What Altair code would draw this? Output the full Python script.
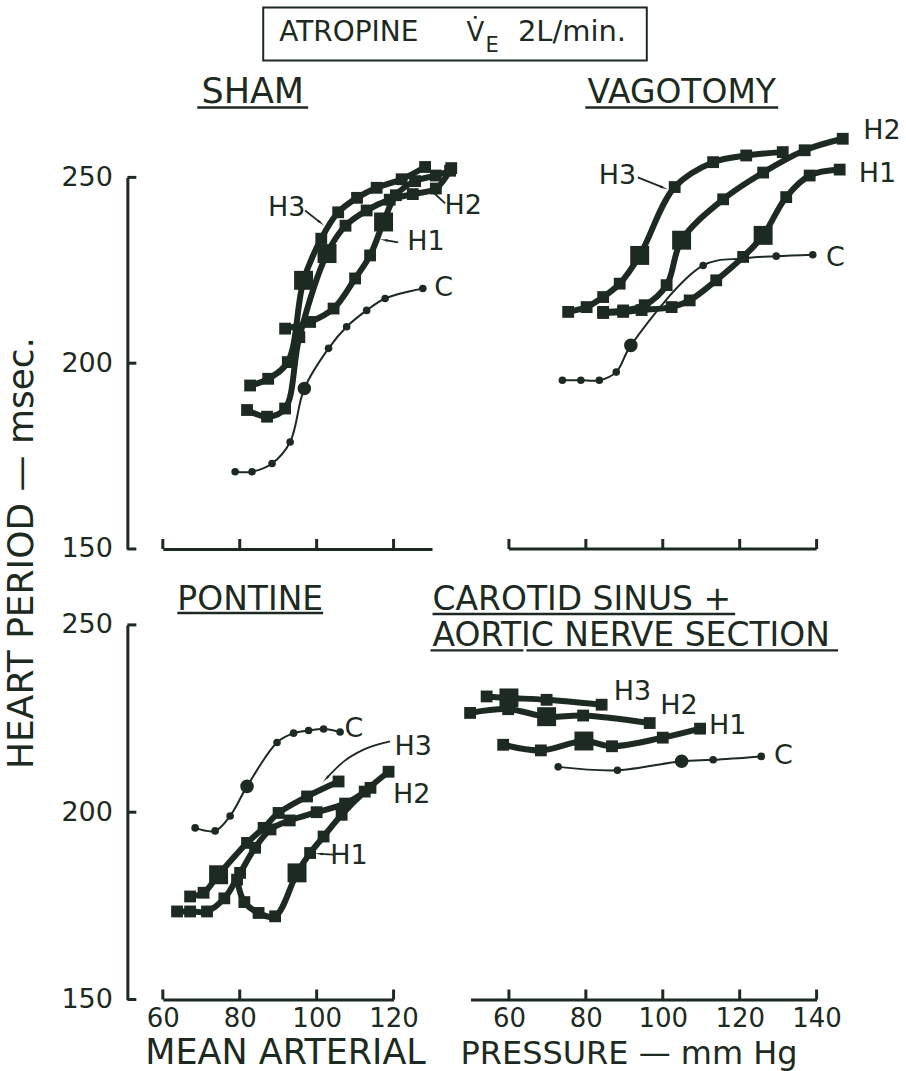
import altair as alt
import pandas as pd

INK = "#1d2a21"
FONT = "DejaVu Sans"

# ---------------- data: mean arterial pressure (mm Hg) vs heart period (msec) ----------------
# SHAM
SHAM_C_MAP = [78.8, 83.2, 88.4, 93.1, 96.8, 103.1, 107.8, 113.0, 117.8, 127.6]
SHAM_C_HP = [170.8, 170.8, 173.0, 178.8, 193.2, 204.0, 209.8, 214.2, 217.4, 220.1]
SHAM_C_BIG = 4
SHAM_H3_MAP = [82.7, 87.4, 92.5, 96.6, 101.2, 105.6, 110.5, 115.6, 122.1, 128.2]
SHAM_H3_HP = [194.0, 195.8, 200.3, 222.3, 233.5, 240.6, 244.5, 247.2, 249.5, 252.8]
SHAM_H3_BIG = 3
SHAM_H2_MAP = [81.9, 87.1, 91.8, 95.5, 102.7, 107.5, 113.0, 119.0, 125.0, 131.0, 135.0]
SHAM_H2_HP = [187.4, 185.6, 187.8, 207.0, 229.5, 237.0, 241.1, 244.0, 245.5, 247.0, 252.5]
SHAM_H2_BIG = 4
SHAM_H1_MAP = [91.8, 98.3, 104.4, 110.0, 113.9, 117.4, 120.6, 125.6, 131.0, 134.7]
SHAM_H1_HP = [209.3, 211.1, 214.7, 222.8, 229.0, 238.0, 245.2, 249.0, 250.5, 251.8]
SHAM_H1_BIG = 5

# VAGOTOMY
VAGO_C_MAP = [73.9, 78.7, 83.5, 87.9, 91.7, 110.5, 120.8, 129.5, 139.0]
VAGO_C_HP = [195.4, 195.4, 195.4, 197.6, 204.8, 226.3, 228.2, 228.8, 229.2]
VAGO_C_BIG = 4
VAGO_H3_MAP = [75.4, 80.2, 84.5, 88.8, 94.0, 103.1, 113.1, 121.7, 131.2]
VAGO_H3_HP = [213.8, 215.1, 217.8, 221.4, 229.0, 247.4, 254.1, 255.9, 256.8]
VAGO_H3_BIG = 4
VAGO_H2_MAP = [84.5, 89.7, 95.3, 101.0, 104.9, 115.7, 126.1, 136.9, 146.8]
VAGO_H2_HP = [213.8, 214.2, 215.6, 221.0, 233.1, 244.1, 251.3, 257.3, 260.4]
VAGO_H2_BIG = 4
VAGO_H1_MAP = [84.5, 89.7, 94.5, 102.3, 107.0, 113.9, 120.9, 126.1, 132.1, 138.2, 146.0]
VAGO_H1_HP = [213.5, 213.8, 214.3, 215.1, 216.9, 222.3, 228.6, 234.4, 244.7, 250.5, 252.1]
VAGO_H1_BIG = 7

# PONTINE
PONT_C_MAP = [68.4, 73.6, 77.5, 81.9, 89.7, 94.0, 97.9, 101.8, 106.1]
PONT_C_HP = [195.8, 195.0, 199.0, 206.9, 218.6, 221.1, 221.8, 222.2, 221.4]
PONT_C_BIG = 3
PONT_H3_MAP = [67.1, 70.6, 74.5, 81.9, 86.2, 90.1, 97.5, 105.7]
PONT_H3_HP = [177.5, 178.5, 183.3, 191.8, 195.8, 199.8, 204.2, 208.2]
PONT_H3_BIG = 2
PONT_H2_MAP = [63.7, 67.1, 71.5, 76.0, 80.1, 84.0, 88.0, 93.0, 100.0, 107.4, 114.0]
PONT_H2_HP = [173.5, 173.5, 173.5, 177.0, 183.8, 190.5, 195.4, 197.8, 200.0, 202.3, 206.5]
PONT_H2_BIG = -1
PONT_H1_MAP = [79.3, 81.2, 84.9, 89.2, 94.9, 98.3, 101.8, 106.5, 112.5, 118.7]
PONT_H1_HP = [182.0, 176.0, 173.1, 172.2, 183.8, 189.1, 193.5, 199.3, 205.5, 210.8]
PONT_H1_BIG = 4

# CAROTID SINUS + AORTIC NERVE SECTION
CARO_C_MAP = [72.8, 88.2, 104.9, 113.1, 125.6]
CARO_C_HP = [212.1, 211.2, 213.6, 214.0, 214.9]
CARO_C_BIG = 2
CARO_H3_MAP = [54.2, 60.0, 69.8, 84.1]
CARO_H3_HP = [230.9, 230.5, 230.0, 228.7]
CARO_H3_BIG = 1
CARO_H2_MAP = [49.9, 59.8, 69.8, 79.3, 96.6]
CARO_H2_HP = [226.5, 227.5, 225.5, 225.8, 223.8]
CARO_H2_BIG = 2
CARO_H1_MAP = [58.5, 68.3, 79.5, 86.8, 100.0, 109.7]
CARO_H1_HP = [218.0, 216.5, 219.0, 217.6, 219.9, 222.3]
CARO_H1_BIG = 2

# curve labels (text, MAP, HP)
SHAM_LAB_T = ["H3", "H2", "H1", "C"]
SHAM_LAB_X = [92.2, 138.1, 128.4, 133.0]
SHAM_LAB_Y = [241.8, 242.3, 232.5, 220.2]
VAGO_LAB_T = ["H3", "H2", "H1", "C"]
VAGO_LAB_X = [88.2, 157.0, 155.8, 144.9]
VAGO_LAB_Y = [250.5, 262.4, 250.8, 228.4]
PONT_LAB_T = ["C", "H3", "H2", "H1"]
PONT_LAB_X = [109.7, 125.1, 124.7, 108.4]
PONT_LAB_Y = [222.1, 217.5, 204.7, 188.4]
CARO_LAB_T = ["H3", "H2", "H1", "C"]
CARO_LAB_X = [92.1, 104.2, 116.9, 131.4]
CARO_LAB_Y = [232.0, 228.3, 222.9, 214.9]

# label arrows: (points as (MAP, HP) from tail to head, head angle)
SHAM_ARROWS = [([(97.0, 241.1), (100.9, 237.9)], 129),
               ([(133.4, 243.0), (130.3, 246.0)], 312),
               ([(121.2, 232.5), (117.8, 233.1)], 279)]
VAGO_ARROWS = [([(93.5, 250.0), (100.0, 247.3)], 112)]
PONT_ARROWS = [([(119.1, 218.9), (112.2, 216.7), (107.0, 213.5), (102.6, 209.1)], 225),
               ([(104.3, 188.7), (100.9, 188.9)], 274)]

Y_TICKS = [150, 200, 250]
SHAM_XTICKS = [60, 80, 100, 120]
VAGO_XTICKS = [60, 80, 100, 120, 140]
PONT_XTICKS = [60, 80, 100, 120]
CARO_XTICKS = [60, 80, 100, 120, 140]

SIZES = {"H": (140, 360), "C": (58, 185)}


def curves_frame(curves):
    rows = []
    for name, kind, xs_, ys_, big in curves:
        for i, (a, b) in enumerate(zip(xs_, ys_)):
            rows.append({"curve": name, "kind": kind, "ord": i, "map": a, "hp": b,
                         "sz": SIZES[kind][1 if i == big else 0]})
    return pd.DataFrame(rows)


def ptext(t, x, y, size, align="center", angle=None):
    kw = dict(font=FONT, fontSize=size, color=INK, align=align, baseline="alphabetic")
    if angle is not None:
        kw["angle"] = angle
        kw["baseline"] = "middle"
    return alt.Chart(pd.DataFrame({"t": [t]})).mark_text(**kw).encode(
        x=alt.value(x), y=alt.value(y), text="t:N")


def prule(x1, x2, y, w=2.5):
    return alt.Chart(pd.DataFrame({"a": [0]})).mark_rule(color=INK, strokeWidth=w).encode(
        x=alt.value(x1), x2=alt.value(x2), y=alt.value(y))


def panel(curves, xdom, w, h, xticks, xlabels_on, span, yaxis_on, labs, arrows, extras):
    sx = alt.Scale(domain=xdom, nice=False, zero=False)
    sy = alt.Scale(domain=[150, 250], nice=False, zero=False)
    ax = alt.Axis(title=None, grid=False, ticks=False, tickSize=0, domain=(span is None),
                  domainColor=INK, domainWidth=3, labels=xlabels_on, values=xticks, format="d",
                  labelFont=FONT, labelFontSize=26, labelColor=INK, labelPadding=6,
                  labelFlush=False, labelOverlap=False)
    if yaxis_on:
        ay = alt.Axis(title=None, grid=False, ticks=False, tickSize=0, domainColor=INK,
                      domainWidth=3, offset=35.5, values=Y_TICKS, format="d",
                      labelFont=FONT, labelFontSize=27, labelColor=INK, labelPadding=15,
                      labelOverlap=False)
        Y = alt.Y("hp:Q", scale=sy, axis=ay)
    else:
        Y = alt.Y("hp:Q", scale=sy, axis=None)
    X = alt.X("map:Q", scale=sx, axis=ax)
    df = curves_frame(curves)
    base = alt.Chart(df)
    layers = [
        base.transform_filter("datum.kind == 'H'").mark_line(
            color=INK, strokeWidth=6, interpolate="catmull-rom", strokeJoin="round",
            strokeCap="round").encode(x=X, y=Y, detail="curve:N", order="ord:Q"),
        base.transform_filter("datum.kind == 'C'").mark_line(
            color=INK, strokeWidth=2, interpolate="catmull-rom").encode(
            x=X, y=Y, detail="curve:N", order="ord:Q"),
        base.transform_filter("datum.kind == 'H'").mark_point(
            shape="square", filled=True, color=INK, opacity=1).encode(
            x=X, y=Y, size=alt.Size("sz:Q", scale=None, legend=None)),
        base.transform_filter("datum.kind == 'C'").mark_point(
            shape="circle", filled=True, color=INK, opacity=1).encode(
            x=X, y=Y, size=alt.Size("sz:Q", scale=None, legend=None)),
    ]
    lt, lx, ly = labs
    ldf = pd.DataFrame({"t": lt, "map": lx, "hp": ly})
    layers.append(alt.Chart(ldf).mark_text(font=FONT, fontSize=27, color=INK, align="center",
                                           baseline="middle").encode(x=X, y=Y, text="t:N"))
    if arrows:
        rows, heads = [], []
        for k, (pts, ang) in enumerate(arrows):
            for i, (a, b) in enumerate(pts):
                rows.append({"id": k, "ord": i, "map": a, "hp": b})
            heads.append({"map": pts[-1][0], "hp": pts[-1][1], "ang": ang})
        layers.append(alt.Chart(pd.DataFrame(rows)).mark_line(
            color=INK, strokeWidth=1.8, interpolate="monotone").encode(
            x=X, y=Y, detail="id:N", order="ord:Q"))
        layers.append(alt.Chart(pd.DataFrame(heads)).mark_point(
            shape="wedge", filled=True, color=INK, opacity=1, size=90).encode(
            x=X, y=Y, angle=alt.Angle("ang:Q", scale=None)))
    # inward x ticks
    layers.append(alt.Chart(pd.DataFrame({"map": xticks})).mark_rule(
        color=INK, strokeWidth=3).encode(x=X, y=alt.value(h), y2=alt.value(h - 10)))
    if span is not None:
        layers.append(alt.Chart(pd.DataFrame({"map": [span[0]], "b": [span[1]]})).mark_rule(
            color=INK, strokeWidth=3).encode(x=X, x2="b:Q", y=alt.value(h)))
    if yaxis_on:
        layers.append(alt.Chart(pd.DataFrame({"hp": Y_TICKS})).mark_rule(
            color=INK, strokeWidth=3).encode(y=Y, x=alt.value(-35.5), x2=alt.value(-26.5)))
    layers.extend(extras)
    return alt.layer(*layers).properties(width=w, height=h)


# ---------------- panels ----------------
W_TL, W_TR, W_BL, W_BR = 269.5, 346.5, 231, 346.5
H_TOP, H_BOT = 372, 375

tl_extras = [
    # keeps the picture's frame fixed at 906 x 1071
    alt.Chart(pd.DataFrame({"a": [0]})).mark_rect(opacity=0).encode(
        x=alt.value(-162.5), x2=alt.value(743.5), y=alt.value(-177), y2=alt.value(894)),
    alt.Chart(pd.DataFrame({"a": [0]})).mark_rect(filled=False, color=INK, strokeWidth=2).encode(
        x=alt.value(100.5), x2=alt.value(484.5), y=alt.value(-170), y2=alt.value(-117)),
    ptext("ATROPINE", 116.5, -137, 28, align="left"),
    ptext("V\u0307", 304, -137, 26, align="left"),
    ptext("E", 323, -126, 21, align="left"),
    ptext("2L/min.", 355.5, -137, 29, align="left"),
    ptext("SHAM", 90, -74, 35),
    prule(34.5, 145.5, -70),
    ptext("HEART PERIOD \u2014 msec.", -140.5, 376, 36, angle=270),
]
tr_extras = [
    ptext("VAGOTOMY", 211.5, -74, 33),
    prule(115, 308, -70),
]
bl_extras = [
    ptext("PONTINE", 87.5, -15, 33),
    prule(14.5, 160.5, -12),
    ptext("MEAN ARTERIAL", -17.5, 440, 35, align="left"),
]
br_extras = [
    ptext("CAROTID SINUS +", -38, -15, 33, align="left"),
    prule(-38, 265, -11),
    ptext("AORTIC NERVE SECTION", -38, 21, 33, align="left"),
    prule(-40, 53, 25.5),
    prule(56, 368, 25.5),
    ptext("PRESSURE \u2014 mm Hg", -10, 440, 32, align="left"),
]

TL = panel([("C", "C", SHAM_C_MAP, SHAM_C_HP, SHAM_C_BIG),
            ("H3", "H", SHAM_H3_MAP, SHAM_H3_HP, SHAM_H3_BIG),
            ("H2", "H", SHAM_H2_MAP, SHAM_H2_HP, SHAM_H2_BIG),
            ("H1", "H", SHAM_H1_MAP, SHAM_H1_HP, SHAM_H1_BIG)],
           [60, 130], W_TL, H_TOP, SHAM_XTICKS, False, None, True,
           (SHAM_LAB_T, SHAM_LAB_X, SHAM_LAB_Y), SHAM_ARROWS, tl_extras)
TR = panel([("C", "C", VAGO_C_MAP, VAGO_C_HP, VAGO_C_BIG),
            ("H3", "H", VAGO_H3_MAP, VAGO_H3_HP, VAGO_H3_BIG),
            ("H2", "H", VAGO_H2_MAP, VAGO_H2_HP, VAGO_H2_BIG),
            ("H1", "H", VAGO_H1_MAP, VAGO_H1_HP, VAGO_H1_BIG)],
           [50, 140], W_TR, H_TOP, VAGO_XTICKS, False, (60, 140), False,
           (VAGO_LAB_T, VAGO_LAB_X, VAGO_LAB_Y), VAGO_ARROWS, tr_extras)
BL = panel([("C", "C", PONT_C_MAP, PONT_C_HP, PONT_C_BIG),
            ("H3", "H", PONT_H3_MAP, PONT_H3_HP, PONT_H3_BIG),
            ("H2", "H", PONT_H2_MAP, PONT_H2_HP, PONT_H2_BIG),
            ("H1", "H", PONT_H1_MAP, PONT_H1_HP, PONT_H1_BIG)],
           [60, 120], W_BL, H_BOT, PONT_XTICKS, True, None, True,
           (PONT_LAB_T, PONT_LAB_X, PONT_LAB_Y), PONT_ARROWS, bl_extras)
BR = panel([("C", "C", CARO_C_MAP, CARO_C_HP, CARO_C_BIG),
            ("H3", "H", CARO_H3_MAP, CARO_H3_HP, CARO_H3_BIG),
            ("H2", "H", CARO_H2_MAP, CARO_H2_HP, CARO_H2_BIG),
            ("H1", "H", CARO_H1_MAP, CARO_H1_HP, CARO_H1_BIG)],
           [50, 140], W_BR, H_BOT, CARO_XTICKS, True, None, False,
           (CARO_LAB_T, CARO_LAB_X, CARO_LAB_Y), [], br_extras)

chart = alt.concat(TL, TR, BL, BR, columns=2, spacing={"row": 76, "column": 38},
                   bounds="flush", align="each").properties(
    padding=0, background="white").configure_view(stroke=None)

chart.save("out.html", embed_options={"renderer": "svg", "actions": False})
